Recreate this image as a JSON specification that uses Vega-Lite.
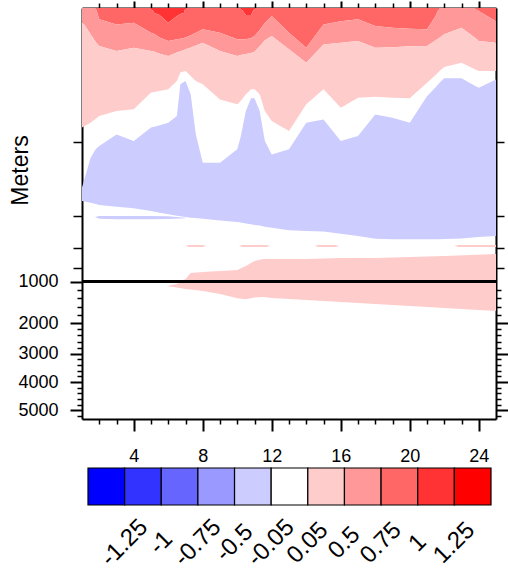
{
  "$schema": "https://vega.github.io/schema/vega-lite/v6.json",
  "padding": {"left": 9, "top": 0, "right": 0, "bottom": 0},
  "bounds": "flush",
  "spacing": 49,
  "config": {
    "font": "Liberation Sans",
    "view": {"stroke": null},
    "axis": {
      "grid": false,
      "domainColor": "#000000",
      "tickColor": "#000000",
      "labelColor": "#000000",
      "titleColor": "#000000",
      "labelFont": "Liberation Sans",
      "titleFont": "Liberation Sans",
      "labelFontSize": 18,
      "labelFlush": false,
      "labelOverlap": false,
      "zindex": 1
    }
  },
  "datasets": {
    "profiles": [
      {"x": 1, "p100": 0, "p075": 0, "p050": 48, "p005": 437, "n005_top": 656, "n005_bot": 705},
      {"x": 1.5, "p100": 0, "p075": 0, "p050": 96, "p005": 419, "n005_top": 547, "n005_bot": 712},
      {"x": 1.8, "p100": 0, "p075": 0, "p050": 125, "p005": 405, "n005_top": 515, "n005_bot": 716},
      {"x": 2, "p100": 0, "p075": 41, "p050": 139, "p005": 395, "n005_top": 504, "n005_bot": 720},
      {"x": 3, "p100": 0, "p075": 60, "p050": 157, "p005": 376, "n005_top": 462, "n005_bot": 726},
      {"x": 4, "p100": 0, "p075": 54, "p050": 145, "p005": 370, "n005_top": 486, "n005_bot": 732},
      {"x": 5, "p100": 0, "p075": 90, "p050": 157, "p005": 309, "n005_top": 437, "n005_bot": 742},
      {"x": 5.2, "p100": 18, "p075": 95, "p050": 160, "p005": 307, "n005_top": 434, "n005_bot": 744},
      {"x": 5.5, "p100": 26, "p075": 108, "p050": 167, "p005": 303, "n005_top": 428, "n005_bot": 748},
      {"x": 6, "p100": 54, "p075": 121, "p050": 175, "p005": 297, "n005_top": 419, "n005_bot": 754},
      {"x": 6.5, "p100": 29, "p075": 114, "p050": 163, "p005": 267, "n005_top": 395, "n005_bot": 759},
      {"x": 6.7, "p100": 22, "p075": 112, "p050": 158, "p005": 236, "n005_top": 279, "n005_bot": 761},
      {"x": 6.9, "p100": 18, "p075": 110, "p050": 154, "p005": 232, "n005_top": 270, "n005_bot": 763},
      {"x": 7, "p100": 0, "p075": 108, "p050": 151, "p005": 230, "n005_top": 267, "n005_bot": 764},
      {"x": 7.3, "p100": 0, "p075": 100, "p050": 144, "p005": 248, "n005_top": 315, "n005_bot": 766},
      {"x": 7.6, "p100": 0, "p075": 90, "p050": 137, "p005": 267, "n005_top": 462, "n005_bot": 767},
      {"x": 8, "p100": 0, "p075": 78, "p050": 127, "p005": 279, "n005_top": 565, "n005_bot": 770},
      {"x": 9, "p100": 0, "p075": 90, "p050": 157, "p005": 334, "n005_top": 565, "n005_bot": 776},
      {"x": 10, "p100": 0, "p075": 114, "p050": 175, "p005": 352, "n005_top": 516, "n005_bot": 782},
      {"x": 10.2, "p100": 0, "p075": 115, "p050": 172, "p005": 340, "n005_top": 470, "n005_bot": 784},
      {"x": 10.5, "p100": 26, "p075": 114, "p050": 168, "p005": 315, "n005_top": 376, "n005_bot": 787},
      {"x": 10.8, "p100": 26, "p075": 110, "p050": 164, "p005": 297, "n005_top": 330, "n005_bot": 790},
      {"x": 11, "p100": 0, "p075": 102, "p050": 160, "p005": 297, "n005_top": 330, "n005_bot": 793},
      {"x": 11.3, "p100": 0, "p075": 80, "p050": 140, "p005": 315, "n005_top": 376, "n005_bot": 795},
      {"x": 11.6, "p100": 0, "p075": 55, "p050": 118, "p005": 376, "n005_top": 486, "n005_bot": 799},
      {"x": 12, "p100": 0, "p075": 29, "p050": 102, "p005": 413, "n005_top": 535, "n005_bot": 803},
      {"x": 13, "p100": 0, "p075": 90, "p050": 151, "p005": 449, "n005_top": 516, "n005_bot": 812},
      {"x": 14, "p100": 0, "p075": 145, "p050": 200, "p005": 352, "n005_top": 419, "n005_bot": 815},
      {"x": 15, "p100": 0, "p075": 60, "p050": 133, "p005": 297, "n005_top": 407, "n005_bot": 817},
      {"x": 16, "p100": 0, "p075": 48, "p050": 127, "p005": 364, "n005_top": 486, "n005_bot": 825},
      {"x": 17, "p100": 0, "p075": 41, "p050": 121, "p005": 328, "n005_top": 468, "n005_bot": 833},
      {"x": 18, "p100": 0, "p075": 66, "p050": 145, "p005": 324, "n005_top": 389, "n005_bot": 843},
      {"x": 19, "p100": 0, "p075": 72, "p050": 143, "p005": 328, "n005_top": 401, "n005_bot": 845},
      {"x": 20, "p100": 0, "p075": 76, "p050": 140, "p005": 330, "n005_top": 419, "n005_bot": 845},
      {"x": 21, "p100": 0, "p075": 78, "p050": 139, "p005": 273, "n005_top": 322, "n005_bot": 845},
      {"x": 21.5, "p100": 0, "p075": 29, "p050": 118, "p005": 245, "n005_top": 290, "n005_bot": 845},
      {"x": 21.7, "p100": 0, "p075": 0, "p050": 110, "p005": 232, "n005_top": 275, "n005_bot": 845},
      {"x": 22, "p100": 0, "p075": 0, "p050": 96, "p005": 216, "n005_top": 257, "n005_bot": 844},
      {"x": 23, "p100": 0, "p075": 0, "p050": 72, "p005": 200, "n005_top": 257, "n005_bot": 842},
      {"x": 23.8, "p100": 0, "p075": 0, "p050": 110, "p005": 225, "n005_top": 285, "n005_bot": 838},
      {"x": 24, "p100": 0, "p075": 11, "p050": 121, "p005": 230, "n005_top": 291, "n005_bot": 837},
      {"x": 25, "p100": 0, "p075": 48, "p050": 127, "p005": 230, "n005_top": 261, "n005_bot": 833}
    ],
    "features": [
      {"name": "cool streak", "mid": -0.275, "x": 1.75, "top": 764, "bottom": 764},
      {"name": "cool streak", "mid": -0.275, "x": 2, "top": 760, "bottom": 770},
      {"name": "cool streak", "mid": -0.275, "x": 3, "top": 760, "bottom": 772},
      {"name": "cool streak", "mid": -0.275, "x": 4, "top": 760, "bottom": 772},
      {"name": "cool streak", "mid": -0.275, "x": 5, "top": 760, "bottom": 772},
      {"name": "cool streak", "mid": -0.275, "x": 6, "top": 761, "bottom": 771},
      {"name": "cool streak", "mid": -0.275, "x": 7, "top": 766, "bottom": 768},
      {"name": "warm streak a", "mid": 0.275, "x": 7, "top": 869, "bottom": 869},
      {"name": "warm streak a", "mid": 0.275, "x": 7.2, "top": 866, "bottom": 873},
      {"name": "warm streak a", "mid": 0.275, "x": 8, "top": 866, "bottom": 873},
      {"name": "warm streak a", "mid": 0.275, "x": 8.2, "top": 869, "bottom": 869},
      {"name": "warm streak b", "mid": 0.275, "x": 10.1, "top": 869, "bottom": 869},
      {"name": "warm streak b", "mid": 0.275, "x": 10.3, "top": 866, "bottom": 873},
      {"name": "warm streak b", "mid": 0.275, "x": 11.7, "top": 866, "bottom": 873},
      {"name": "warm streak b", "mid": 0.275, "x": 11.9, "top": 869, "bottom": 869},
      {"name": "warm streak c", "mid": 0.275, "x": 14.5, "top": 869, "bottom": 869},
      {"name": "warm streak c", "mid": 0.275, "x": 14.7, "top": 866, "bottom": 873},
      {"name": "warm streak c", "mid": 0.275, "x": 15.7, "top": 866, "bottom": 873},
      {"name": "warm streak c", "mid": 0.275, "x": 15.9, "top": 869, "bottom": 869},
      {"name": "warm streak d", "mid": 0.275, "x": 22.6, "top": 869, "bottom": 869},
      {"name": "warm streak d", "mid": 0.275, "x": 22.8, "top": 866, "bottom": 873},
      {"name": "warm streak d", "mid": 0.275, "x": 25, "top": 866, "bottom": 873},
      {"name": "deep warm", "mid": 0.275, "x": 5.93, "top": 1103, "bottom": 1103},
      {"name": "deep warm", "mid": 0.275, "x": 6.5, "top": 1055, "bottom": 1139},
      {"name": "deep warm", "mid": 0.275, "x": 7, "top": 990, "bottom": 1175},
      {"name": "deep warm", "mid": 0.275, "x": 7.3, "top": 968, "bottom": 1190},
      {"name": "deep warm", "mid": 0.275, "x": 8, "top": 965, "bottom": 1224},
      {"name": "deep warm", "mid": 0.275, "x": 9, "top": 961, "bottom": 1296},
      {"name": "deep warm", "mid": 0.275, "x": 10, "top": 957, "bottom": 1400},
      {"name": "deep warm", "mid": 0.275, "x": 10.5, "top": 943, "bottom": 1420},
      {"name": "deep warm", "mid": 0.275, "x": 11, "top": 924, "bottom": 1380},
      {"name": "deep warm", "mid": 0.275, "x": 11.5, "top": 917, "bottom": 1368},
      {"name": "deep warm", "mid": 0.275, "x": 12, "top": 917, "bottom": 1392},
      {"name": "deep warm", "mid": 0.275, "x": 14, "top": 917, "bottom": 1440},
      {"name": "deep warm", "mid": 0.275, "x": 16, "top": 913, "bottom": 1488},
      {"name": "deep warm", "mid": 0.275, "x": 18, "top": 913, "bottom": 1536},
      {"name": "deep warm", "mid": 0.275, "x": 20, "top": 910, "bottom": 1584},
      {"name": "deep warm", "mid": 0.275, "x": 22, "top": 906, "bottom": 1632},
      {"name": "deep warm", "mid": 0.275, "x": 25, "top": 899, "bottom": 1704}
    ],
    "classes": [
      {"cls": 0, "mid": -1.375, "label": null},
      {"cls": 1, "mid": -1.125, "label": "-1.25"},
      {"cls": 2, "mid": -0.875, "label": "-1"},
      {"cls": 3, "mid": -0.625, "label": "-0.75"},
      {"cls": 4, "mid": -0.275, "label": "-0.5"},
      {"cls": 5, "mid": 0, "label": "-0.05"},
      {"cls": 6, "mid": 0.275, "label": "0.05"},
      {"cls": 7, "mid": 0.625, "label": "0.5"},
      {"cls": 8, "mid": 0.875, "label": "0.75"},
      {"cls": 9, "mid": 1.125, "label": "1"},
      {"cls": 10, "mid": 1.375, "label": "1.25"}
    ]
  },
  "vconcat": [
    {
      "width": 414,
      "height": 411,
      "data": {"name": "profiles"},
      "resolve": {"axis": {"x": "independent", "y": "independent"}},
      "layer": [
        {
          "mark": {"type": "area", "interpolate": "linear"},
          "encoding": {
            "x": {"field": "x", "type": "quantitative", "scale": {"domain": [1, 25], "nice": false, "zero": false}, "axis": null},
            "y": {"field": "p100", "type": "quantitative",
                  "scale": {"domain": [0, 1000, 2000, 3000, 4000, 5000, 5300], "range": [0, 273.7, 315.3, 345.7, 374, 402.3, 411], "nice": false, "zero": false},
                  "axis": {"orient": "right", "values": [490, 760, 877, 950], "tickSize": 8, "tickWidth": 1.5, "labels": false, "domain": false, "title": null}},
            "y2": {"datum": 0},
            "color": {"datum": 1.125, "type": "quantitative",
                      "scale": {"type": "threshold", "domain": [-1.25, -1, -0.75, -0.5, -0.05, 0.05, 0.5, 0.75, 1, 1.25],
                                "range": ["#0000ff", "#3333ff", "#6666ff", "#9999ff", "#ccccff", "#ffffff", "#ffcccc", "#ff9999", "#ff6666", "#ff3333", "#ff0000"]},
                      "legend": null}
          }
        },
        {
          "mark": {"type": "area", "interpolate": "linear"},
          "encoding": {
            "x": {"field": "x", "type": "quantitative", "scale": {"domain": [1, 25], "nice": false, "zero": false},
                  "axis": {"orient": "bottom", "values": [4, 8, 12, 16, 20, 24], "format": "d", "tickSize": 12, "tickWidth": 2, "labelPadding": 16, "domain": true, "domainWidth": 2, "title": null}},
            "y": {"field": "p100", "type": "quantitative",
                  "scale": {"domain": [0, 1000, 2000, 3000, 4000, 5000, 5300], "range": [0, 273.7, 315.3, 345.7, 374, 402.3, 411], "nice": false, "zero": false},
                  "axis": {"orient": "left", "values": [1000, 2000, 3000, 4000, 5000], "format": "d", "tickSize": 12, "tickWidth": 2, "labelPadding": 12, "domain": true, "domainWidth": 2,
                           "title": "Meters", "titleFontSize": 23, "titleFontWeight": "normal", "titleAngle": -90, "titleX": -62, "titleY": 162, "titleAlign": "center", "titleBaseline": "middle"}},
            "y2": {"field": "p075"},
            "color": {"datum": 0.875, "type": "quantitative",
                      "scale": {"type": "threshold", "domain": [-1.25, -1, -0.75, -0.5, -0.05, 0.05, 0.5, 0.75, 1, 1.25],
                                "range": ["#0000ff", "#3333ff", "#6666ff", "#9999ff", "#ccccff", "#ffffff", "#ffcccc", "#ff9999", "#ff6666", "#ff3333", "#ff0000"]},
                      "legend": null}
          }
        },
        {
          "mark": {"type": "area", "interpolate": "linear"},
          "encoding": {
            "x": {"field": "x", "type": "quantitative", "scale": {"domain": [1, 25], "nice": false, "zero": false},
                  "axis": {"orient": "bottom", "values": [2, 3, 5, 6, 7, 9, 10, 11, 13, 14, 15, 17, 18, 19, 21, 22, 23], "tickSize": 5, "tickWidth": 1.5, "labels": false, "domain": false, "title": null}},
            "y": {"field": "p075", "type": "quantitative",
                  "scale": {"domain": [0, 1000, 2000, 3000, 4000, 5000, 5300], "range": [0, 273.7, 315.3, 345.7, 374, 402.3, 411], "nice": false, "zero": false},
                  "axis": {"orient": "left", "values": [1200, 1400, 1600, 1800, 2200, 2400, 2600, 2800, 3200, 3400, 3600, 3800, 4200, 4400, 4600, 4800, 5200], "tickSize": 5, "tickWidth": 1.5, "labels": false, "domain": false, "title": null}},
            "y2": {"field": "p050"},
            "color": {"datum": 0.625, "type": "quantitative",
                      "scale": {"type": "threshold", "domain": [-1.25, -1, -0.75, -0.5, -0.05, 0.05, 0.5, 0.75, 1, 1.25],
                                "range": ["#0000ff", "#3333ff", "#6666ff", "#9999ff", "#ccccff", "#ffffff", "#ffcccc", "#ff9999", "#ff6666", "#ff3333", "#ff0000"]},
                      "legend": null}
          }
        },
        {
          "mark": {"type": "area", "interpolate": "linear"},
          "encoding": {
            "x": {"field": "x", "type": "quantitative", "scale": {"domain": [1, 25], "nice": false, "zero": false},
                  "axis": {"orient": "top", "values": [4, 8, 12, 16, 20, 24], "tickSize": 7, "tickWidth": 2, "labels": false, "domain": true, "domainWidth": 2, "title": null}},
            "y": {"field": "p050", "type": "quantitative",
                  "scale": {"domain": [0, 1000, 2000, 3000, 4000, 5000, 5300], "range": [0, 273.7, 315.3, 345.7, 374, 402.3, 411], "nice": false, "zero": false},
                  "axis": {"orient": "right", "values": [2000, 3000, 4000, 5000], "tickSize": 12, "tickWidth": 2, "labels": false, "domain": true, "domainWidth": 2, "title": null}},
            "y2": {"field": "p005"},
            "color": {"datum": 0.275, "type": "quantitative",
                      "scale": {"type": "threshold", "domain": [-1.25, -1, -0.75, -0.5, -0.05, 0.05, 0.5, 0.75, 1, 1.25],
                                "range": ["#0000ff", "#3333ff", "#6666ff", "#9999ff", "#ccccff", "#ffffff", "#ffcccc", "#ff9999", "#ff6666", "#ff3333", "#ff0000"]},
                      "legend": null}
          }
        },
        {
          "mark": {"type": "area", "interpolate": "linear"},
          "encoding": {
            "x": {"field": "x", "type": "quantitative", "scale": {"domain": [1, 25], "nice": false, "zero": false},
                  "axis": {"orient": "top", "values": [2, 3, 5, 6, 7, 9, 10, 11, 13, 14, 15, 17, 18, 19, 21, 22, 23], "tickSize": 5, "tickWidth": 1.5, "labels": false, "domain": false, "title": null}},
            "y": {"field": "n005_top", "type": "quantitative",
                  "scale": {"domain": [0, 1000, 2000, 3000, 4000, 5000, 5300], "range": [0, 273.7, 315.3, 345.7, 374, 402.3, 411], "nice": false, "zero": false},
                  "axis": {"orient": "right", "values": [1200, 1400, 1600, 1800, 2200, 2400, 2600, 2800, 3200, 3400, 3600, 3800, 4200, 4400, 4600, 4800, 5200], "tickSize": 5, "tickWidth": 1.5, "labels": false, "domain": false, "title": null}},
            "y2": {"field": "n005_bot"},
            "color": {"datum": -0.275, "type": "quantitative",
                      "scale": {"type": "threshold", "domain": [-1.25, -1, -0.75, -0.5, -0.05, 0.05, 0.5, 0.75, 1, 1.25],
                                "range": ["#0000ff", "#3333ff", "#6666ff", "#9999ff", "#ccccff", "#ffffff", "#ffcccc", "#ff9999", "#ff6666", "#ff3333", "#ff0000"]},
                      "legend": null}
          }
        },
        {
          "data": {"name": "features"},
          "mark": {"type": "area", "interpolate": "linear"},
          "encoding": {
            "x": {"field": "x", "type": "quantitative", "scale": {"domain": [1, 25], "nice": false, "zero": false}, "axis": null},
            "y": {"field": "top", "type": "quantitative",
                  "scale": {"domain": [0, 1000, 2000, 3000, 4000, 5000, 5300], "range": [0, 273.7, 315.3, 345.7, 374, 402.3, 411], "nice": false, "zero": false},
                  "axis": {"orient": "left", "values": [490, 760, 877, 950], "tickSize": 9, "tickWidth": 1.5, "labels": false, "domain": false, "title": null}},
            "y2": {"field": "bottom"},
            "color": {"field": "mid", "type": "quantitative",
                      "scale": {"type": "threshold", "domain": [-1.25, -1, -0.75, -0.5, -0.05, 0.05, 0.5, 0.75, 1, 1.25],
                                "range": ["#0000ff", "#3333ff", "#6666ff", "#9999ff", "#ccccff", "#ffffff", "#ffcccc", "#ff9999", "#ff6666", "#ff3333", "#ff0000"]},
                      "legend": null},
            "detail": {"field": "name"}
          }
        },
        {
          "mark": {"type": "rule", "color": "#000000", "strokeWidth": 2},
          "encoding": {
            "y": {"datum": 1000, "type": "quantitative", "axis": null}
          }
        }
      ]
    },
    {
      "width": 414,
      "height": 37,
      "data": {"name": "classes"},
      "layer": [
        {
          "mark": {"type": "rect", "stroke": "#000000", "strokeWidth": 1.2},
          "encoding": {
            "x": {"field": "cls", "type": "ordinal", "scale": {"range": [6, 409], "paddingInner": 0, "paddingOuter": 0}, "axis": null},
            "color": {"field": "mid", "type": "quantitative",
                      "scale": {"type": "threshold", "domain": [-1.25, -1, -0.75, -0.5, -0.05, 0.05, 0.5, 0.75, 1, 1.25],
                                "range": ["#0000ff", "#3333ff", "#6666ff", "#9999ff", "#ccccff", "#ffffff", "#ffcccc", "#ff9999", "#ff6666", "#ff3333", "#ff0000"]},
                      "legend": null}
          }
        },
        {
          "transform": [{"filter": "datum.label != null"}],
          "mark": {"type": "text", "angle": -45, "align": "center", "baseline": "middle", "fontSize": 24, "font": "Liberation Sans", "color": "#000000", "y": 75},
          "encoding": {
            "x": {"field": "cls", "type": "ordinal", "bandPosition": 0, "axis": null},
            "text": {"field": "label", "type": "nominal"}
          }
        }
      ]
    }
  ]
}
